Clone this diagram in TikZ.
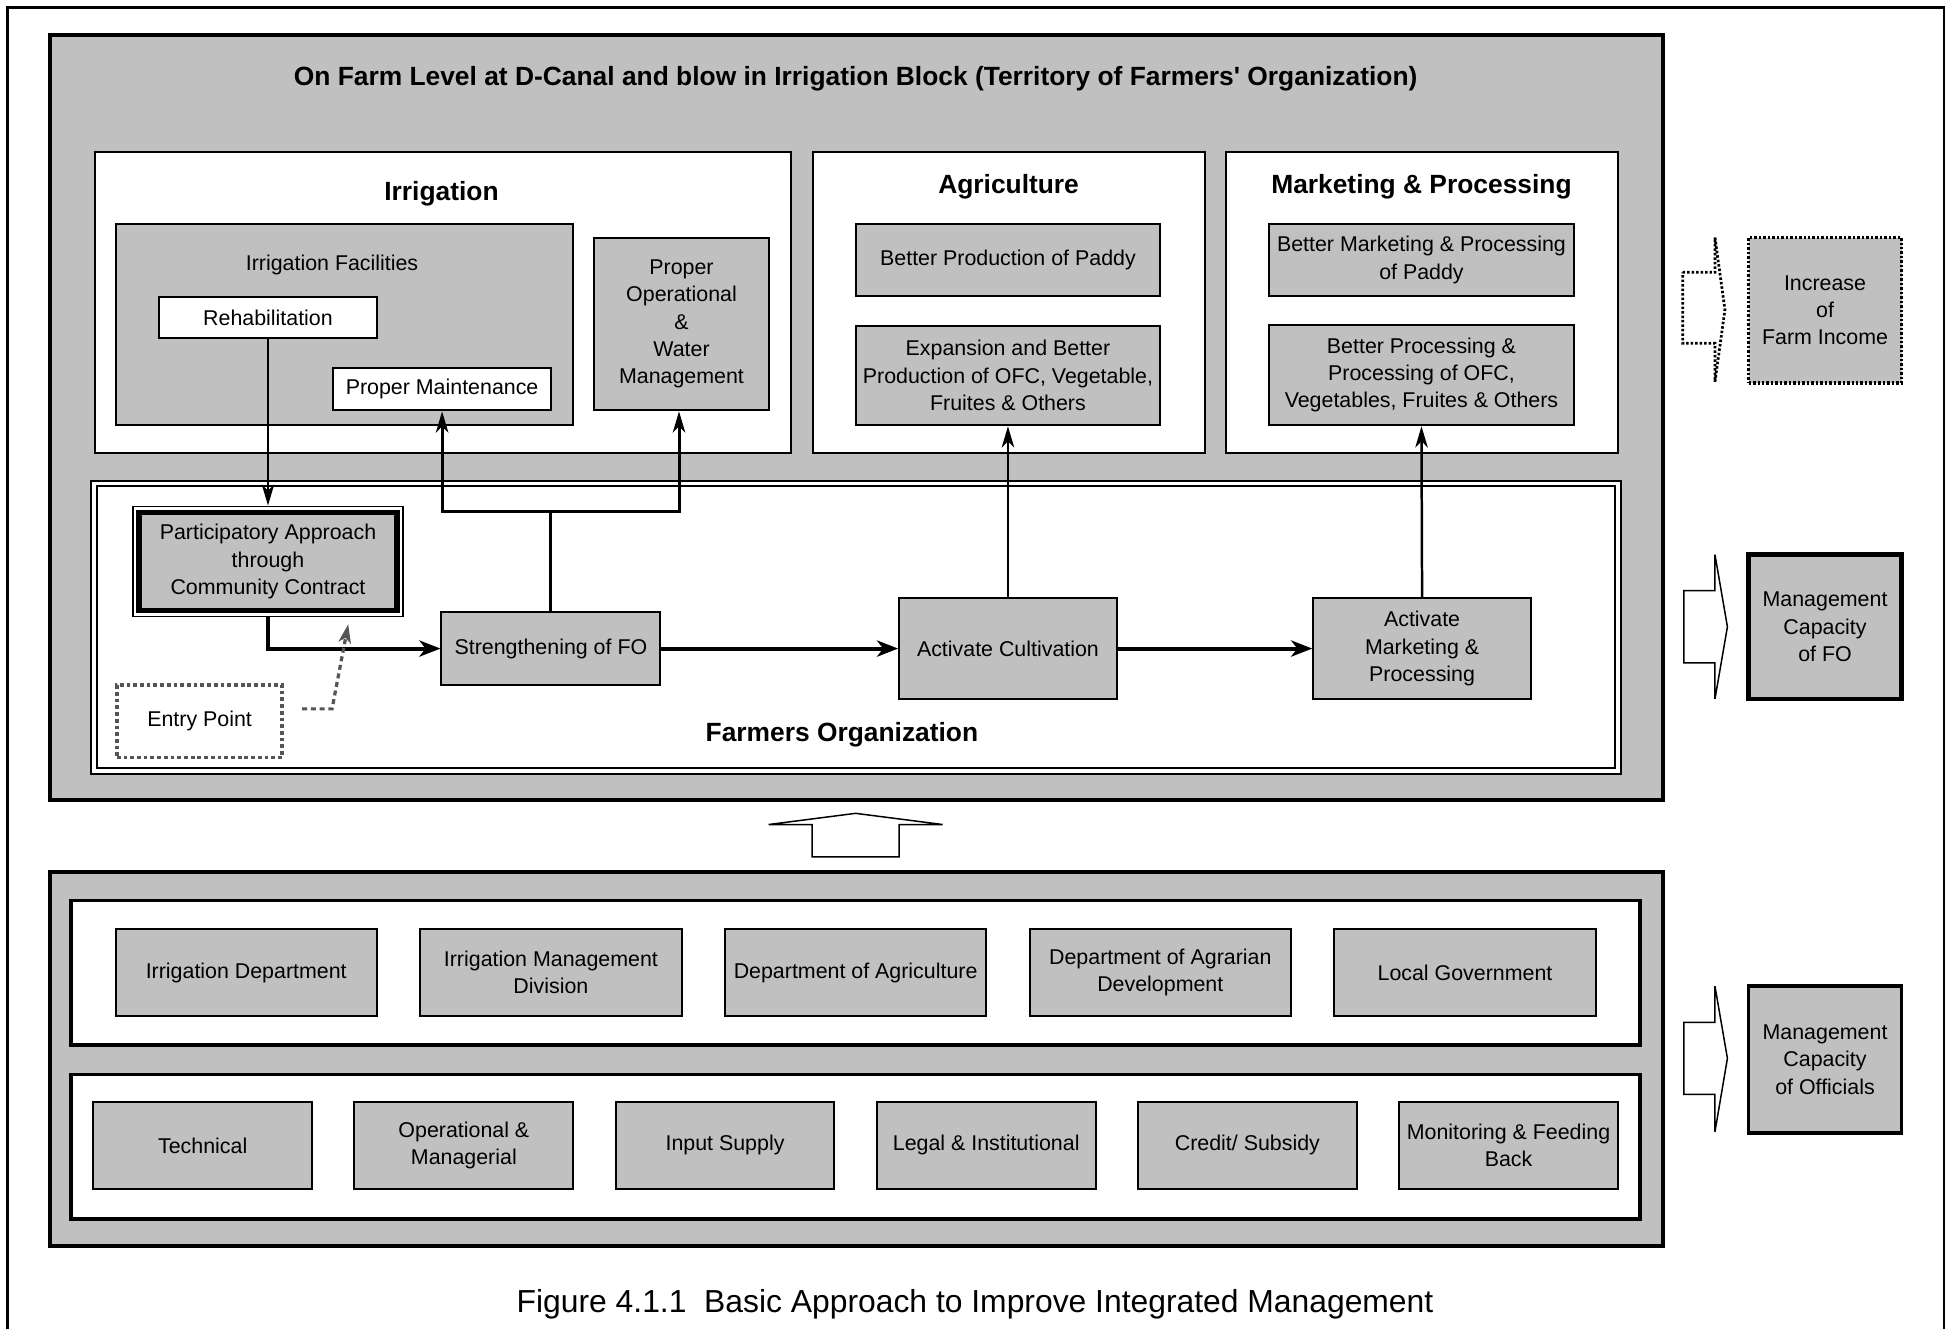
\documentclass[tikz,border=0pt]{standalone}
\usepackage{fontspec}
\setmainfont{Liberation Sans}[Ligatures=TeXOff]
\usetikzlibrary{arrows.meta}
\definecolor{pgray}{RGB}{192,192,192}
\definecolor{dgray}{RGB}{85,85,85}
\begin{document}
\begin{tikzpicture}[x=1pt,y=-1pt,
  body/.style={font=\fontsize{17.2}{22}\selectfont},
  bold/.style={font=\fontsize{21.2}{25}\selectfont\bfseries},
  panel/.style={draw=black,line width=3pt,fill=pgray,inner sep=0pt},
  wpanel/.style={draw=black,line width=3pt,fill=white,inner sep=0pt},
  wframe/.style={draw=black,line width=1.6pt,fill=white,inner sep=0pt},
  gbox/.style={draw=black,line width=1.6pt,fill=pgray,inner sep=0pt,align=center,body},
  wbox/.style={draw=black,line width=1.6pt,fill=white,inner sep=0pt,align=center,body},
  lbl/.style={inner sep=0pt,align=center,body},
  thinarrow/.style={line width=2pt,-{Stealth[length=17pt,width=10pt,inset=5pt]}},
  thickarrow/.style={line width=3.2pt,-{Stealth[length=17pt,width=13pt,inset=5pt]}},
  blockarrow/.style={draw=black,line width=1.2pt,fill=white,line join=miter},
]
\useasboundingbox (0,0) rectangle (1568,1069);
% outer frame
\draw[line width=2pt] (6,1069) -- (6,6) -- (1563,6) -- (1563,1069);

% ===== upper panel =====
\node[panel,minimum width=1297pt,minimum height=615pt] (upper) at (688.5,335.5) {};
\node[bold,inner sep=0pt] (title) at (688,63) {On Farm Level at D-Canal and blow in Irrigation Block (Territory of Farmers' Organization)};

\node[wframe,minimum width=560pt,minimum height=242pt] (irrbox) at (356,243) {};
\node[wframe,minimum width=315pt,minimum height=242pt] (agrbox) at (811.5,243) {};
\node[wframe,minimum width=315pt,minimum height=242pt] (mktbox) at (1143.5,243) {};
\node[bold,inner sep=0pt] (irrhead) at (355,156) {Irrigation};
\node[bold,inner sep=0pt] (agrhead) at (811,150) {Agriculture};
\node[bold,inner sep=0pt] (mkthead) at (1143,150) {Marketing \& Processing};

\node[gbox,minimum width=368pt,minimum height=162pt] (facil) at (277,261) {};
\node[lbl] (faciltxt) at (267,213) {Irrigation Facilities};
\node[wbox,minimum width=175pt,minimum height=33pt] (rehab) at (215.5,255.5) {Rehabilitation};
\node[wbox,minimum width=175pt,minimum height=34pt] (maint) at (355.5,313) {Proper Maintenance};
\node[gbox,minimum width=140pt,minimum height=139pt] (propop) at (548,260.5) {Proper\\Operational\\\&\\Water\\Management};

\node[gbox,minimum width=245pt,minimum height=58pt] (paddy) at (810.5,209) {Better Production of Paddy};
\node[gbox,minimum width=245pt,minimum height=80pt] (expand) at (810.5,302) {Expansion and Better\\Production of OFC, Vegetable,\\Fruites \& Others};
\node[gbox,minimum width=246pt,minimum height=58pt] (mktpaddy) at (1143,209) {Better Marketing \& Processing\\of Paddy};
\node[gbox,minimum width=246pt,minimum height=81pt] (betterproc) at (1143,301.5) {Better Processing \&\\Processing of OFC,\\Vegetables, Fruites \& Others};

% Farmers organization frame
\node[draw=black,line width=1.6pt,double=white,double distance=2.6pt,fill=white,inner sep=0pt,
      minimum width=1225.5pt,minimum height=231.5pt] (fo) at (688.25,504.25) {};
\node[bold,inner sep=0pt] (fotxt) at (677,591) {Farmers Organization};

\node[wframe,line width=1pt,minimum width=217pt,minimum height=89pt] (partouter) at (215.5,451.5) {};
\node[gbox,line width=4.5pt,minimum width=207pt,minimum height=79pt] (part) at (215.5,451.5) {Participatory Approach\\through\\Community Contract};

\node[gbox,minimum width=176pt,minimum height=59pt] (strength) at (443,521.5) {Strengthening of FO};
\node[gbox,minimum width=175pt,minimum height=81pt] (actcult) at (810.5,521.5) {Activate Cultivation};
\node[gbox,minimum width=175pt,minimum height=81pt] (actmkt) at (1143.5,521.5) {Activate\\Marketing \&\\Processing};

\node[draw=dgray,line width=3pt,dash pattern=on 3pt off 2.4pt,fill=white,inner sep=0pt,body,
      minimum width=133pt,minimum height=58pt] (entry) at (160.5,580) {Entry Point};

% connectors
\draw[thinarrow] (rehab.south) -- (partouter.north);
\draw[thickarrow] (partouter.south) |- (strength.west);
\draw[thickarrow] (strength.east) -- (actcult.west);
\draw[thickarrow] (actcult.east) -- (actmkt.west);
\coordinate (jn) at (443,411);
\draw[line width=2.4pt] (strength.north) -- (jn);
\draw[thinarrow,line width=2.4pt] (jn) -| (maint.south);
\draw[thinarrow,line width=2.4pt] (jn) -| ([xshift=-2pt]propop.south);
\draw[thinarrow] (actcult.north) -- (expand.south);
\draw[thinarrow] (actmkt.north) -- (betterproc.south);
\coordinate (epstart) at (243,570);
\coordinate (epbend) at (267,570);
\coordinate (eptip) at (280,502);
\draw[dgray,line width=2.6pt,dash pattern=on 4pt off 3pt,-{Stealth[length=15pt,width=10pt,inset=4pt]}]
  (epstart) -- (epbend) -- (eptip);

% ===== right side =====
\node[gbox,line width=2.6pt,dash pattern=on 2pt off 1.6pt,minimum width=123pt,minimum height=117pt] (income) at (1467.5,249.5) {Increase\\of\\Farm Income};
\node[gbox,line width=3.5pt,minimum width=123pt,minimum height=116pt] (mcfo) at (1467.5,504) {Management\\Capacity\\of FO};
\node[gbox,line width=3pt,minimum width=123pt,minimum height=118pt] (mcoff) at (1467.5,852) {Management\\Capacity\\of Officials};

\draw[blockarrow,dash pattern=on 2pt off 1.6pt,line width=2.2pt]
  (1353,219) -- (1379,219) -- (1379,191) -- (1387,249) -- (1379,307) -- (1379,276) -- (1353,276) -- cycle;
\draw[blockarrow] (1354,475) -- (1379,475) -- (1379,446) -- (1389,504) -- (1379,562) -- (1379,533) -- (1354,533) -- cycle;
\draw[blockarrow] (1354,822) -- (1379,822) -- (1379,793) -- (1389,851) -- (1379,910) -- (1379,880) -- (1354,880) -- cycle;

% up arrow between panels
\draw[blockarrow] (653,689) -- (653,663) -- (618,663) -- (688,654) -- (758,663) -- (723,663) -- (723,689) -- cycle;

% ===== lower panel =====
\node[panel,minimum width=1297pt,minimum height=301pt] (lower) at (688.5,851.5) {};
\node[wpanel,minimum width=1262pt,minimum height=116pt] (orgrow) at (688,782) {};
\node[wpanel,minimum width=1262pt,minimum height=116pt] (caprow) at (688,922) {};

\node[gbox,minimum width=210pt,minimum height=70pt] (irrdept) at (198,782) {Irrigation Department};
\node[gbox,minimum width=210pt,minimum height=70pt] (imd) at (443,782) {Irrigation Management\\Division};
\node[gbox,minimum width=210pt,minimum height=70pt] (doa) at (688,782) {Department of Agriculture};
\node[gbox,minimum width=210pt,minimum height=70pt] (dad) at (933,782) {Department of Agrarian\\Development};
\node[gbox,minimum width=210pt,minimum height=70pt] (locgov) at (1178,782) {Local Government};

\node[gbox,minimum width=176pt,minimum height=70pt] (tech) at (163,921) {Technical};
\node[gbox,minimum width=176pt,minimum height=70pt] (opman) at (373,921) {Operational \&\\Managerial};
\node[gbox,minimum width=176pt,minimum height=70pt] (input) at (583,921) {Input Supply};
\node[gbox,minimum width=176pt,minimum height=70pt] (legal) at (793,921) {Legal \& Institutional};
\node[gbox,minimum width=176pt,minimum height=70pt] (credit) at (1003,921) {Credit/ Subsidy};
\node[gbox,minimum width=176pt,minimum height=70pt] (monit) at (1213,921) {Monitoring \& Feeding\\Back};

% caption
\node[inner sep=0pt,font=\fontsize{25.6}{30}\selectfont] (caption) at (784,1049) {Figure 4.1.1\ \ Basic Approach to Improve Integrated Management};
\end{tikzpicture}
\end{document}
